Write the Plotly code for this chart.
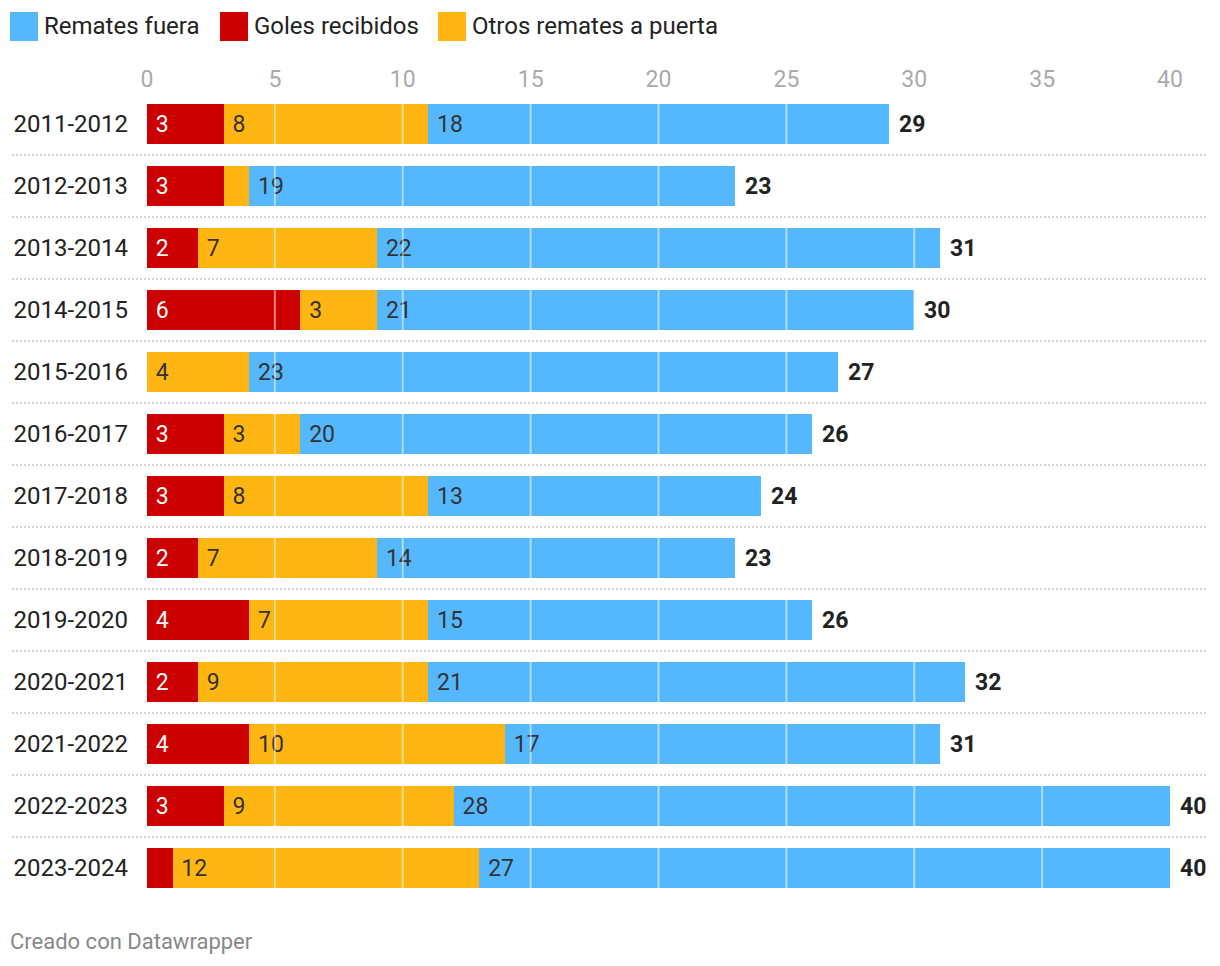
import plotly.graph_objects as go

seasons = ["2011-2012", "2012-2013", "2013-2014", "2014-2015", "2015-2016", "2016-2017",
           "2017-2018", "2018-2019", "2019-2020", "2020-2021", "2021-2022", "2022-2023", "2023-2024"]
goles = [3, 3, 2, 6, 0, 3, 3, 2, 4, 2, 4, 3, 1]
otros = [8, 1, 7, 3, 4, 3, 8, 7, 7, 9, 10, 9, 12]
fuera = [18, 19, 22, 21, 23, 20, 13, 14, 15, 21, 17, 28, 27]
x_ticks = [0, 5, 10, 15, 20, 25, 30, 35, 40]

names = ["Goles recibidos", "Otros remates a puerta", "Remates fuera"]
colors = ["#cc0000", "#ffb612", "#55b8ff"]
txtcolors = ["#ffffff", "#333333", "#333333"]
series = [goles, otros, fuera]
totals = [a + b + c for a, b, c in zip(goles, otros, fuera)]

W, H = 1220, 966
L, R, T, B = 147, 50, 93, 67
PW, PH = W - L - R, H - T - B


def px_x(px):
    return (px - L) / PW


def px_y(py):
    return (H - B - py) / PH


fig = go.Figure()
for name, vals, col, tc in zip(names, series, colors, txtcolors):
    fig.add_trace(go.Bar(
        y=seasons, x=vals, orientation="h", name=name,
        marker=dict(color=col, line=dict(width=0)),
        text=["\u00a0" + str(v) if v >= 2 else "" for v in vals],
        textposition="inside", insidetextanchor="start",
        textfont=dict(family="Roboto", size=23, color=tc),
        constraintext="none", cliponaxis=False, showlegend=False,
        hoverinfo="skip",
    ))

# total labels
for s, t in zip(seasons, totals):
    fig.add_annotation(x=t, y=s, text="<b>%d</b>" % t, showarrow=False,
                       xanchor="left", xshift=8,
                       font=dict(family="Roboto", size=23, color="#222222"))

shapes = []
# grid lines drawn over bars
for v in x_ticks[1:-1]:
    shapes.append(dict(type="line", xref="x", yref="paper", x0=v, x1=v, y0=0, y1=1,
                       line=dict(color="rgba(255,255,255,0.5)", width=2), layer="above"))
# dotted separators between rows
for i in range(len(seasons) - 1):
    shapes.append(dict(type="line", xref="paper", yref="y", x0=px_x(12), x1=px_x(1208),
                       y0=i + 0.5, y1=i + 0.5,
                       line=dict(color="#d2d2d2", width=2, dash="2px,2px"), layer="below"))

# custom legend
leg = [("Remates fuera", colors[2], 10), ("Goles recibidos", colors[0], 220),
       ("Otros remates a puerta", colors[1], 438)]
for label, col, px in leg:
    shapes.append(dict(type="rect", xref="paper", yref="paper", x0=px_x(px), x1=px_x(px + 28),
                       y0=px_y(12), y1=px_y(41), fillcolor=col, line=dict(width=0)))
    fig.add_annotation(xref="paper", yref="paper", x=px_x(px + 32), y=px_y(26),
                       text=label, showarrow=False, xanchor="left", yanchor="middle",
                       font=dict(family="Roboto", size=24, color="#222222"))

fig.add_annotation(xref="paper", yref="paper", x=px_x(8), y=px_y(941),
                   text="Creado con Datawrapper", showarrow=False, xanchor="left",
                   yanchor="middle", font=dict(family="Roboto", size=22, color="#888888"))

fig.update_layout(
    barmode="stack", bargap=22 / 62,
    width=W, height=H,
    margin=dict(l=L, r=R, t=T, b=B, pad=0),
    paper_bgcolor="white", plot_bgcolor="white",
    shapes=shapes,
    font=dict(family="Roboto"),
    xaxis=dict(range=[0, 40], side="top", tickvals=x_ticks, showgrid=False, zeroline=False,
               showline=False, ticks="", tickfont=dict(family="Roboto", size=23, color="#aaaaaa"),
               fixedrange=True),
    yaxis=dict(autorange="reversed", showgrid=False, zeroline=False, showline=False, ticks="",
               ticklabelstandoff=18, tickfont=dict(family="Roboto", size=24, color="#222222")),
)

fig.write_html("out.html", config={"displayModeBar": False},
               post_script="document.body.style.margin='0px';document.body.style.overflow='hidden';")
